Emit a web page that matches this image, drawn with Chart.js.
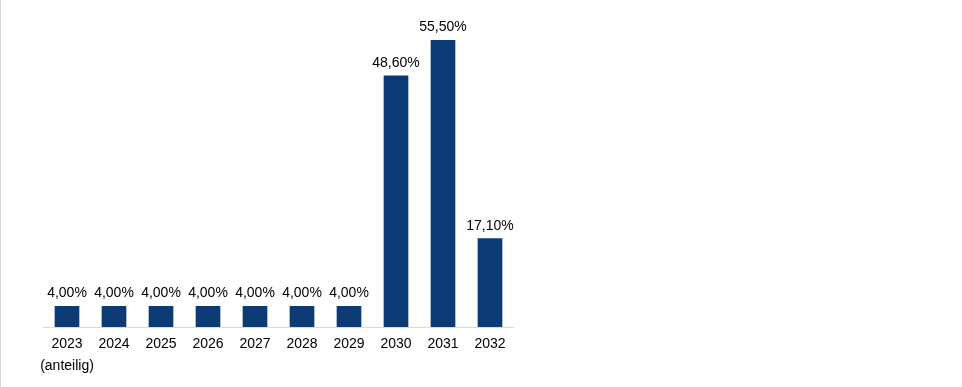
<!DOCTYPE html>
<html>
<head>
<meta charset="utf-8">
<script src="https://cdn.jsdelivr.net/npm/chart.js@4"></script>
<style>
	html, body { margin: 0; padding: 0; background: #fff; }
	.wrap { width: 962px; height: 387px; border-left: 1px solid #d9d9d9; box-sizing: border-box; }
</style>
</head>
<body>
<div class="wrap"><canvas class="chart" width="961" height="387"></canvas></div>
<script>
const years = [["2023", "(anteilig)"], "2024", "2025", "2026", "2027", "2028", "2029", "2030", "2031", "2032"];
const shares = [4.0, 4.0, 4.0, 4.0, 4.0, 4.0, 4.0, 48.6, 55.5, 17.1];

const barColour = "#0b3a75";
const fontFamily = "'Liberation Sans', Arial, sans-serif";

function formatPercent(v) {
	return v.toFixed(2).replace(".", ",") + "%";
}

// labels above each bar
const valueLabels = {
	id: "valueLabels",
	afterDatasetsDraw(chart) {
		const ctx = chart.ctx;
		const meta = chart.getDatasetMeta(0);
		ctx.save();
		ctx.font = "14px " + fontFamily;
		ctx.fillStyle = "#000";
		ctx.textAlign = "center";
		ctx.textBaseline = "bottom";
		meta.data.forEach((bar, i) => {
			ctx.fillText(formatPercent(shares[i]), bar.x, bar.y - 6);
		});
		ctx.restore();
	},
};

const chartCanvas = document.querySelector(".chart");

new Chart(chartCanvas, {
	type: "bar",
	data: {
		labels: years,
		datasets: [
			{
				data: shares,
				backgroundColor: barColour,
				barThickness: 24,
			},
		],
	},
	options: {
		responsive: false,
		animation: false,
		layout: {
			padding: { left: 42.5, right: 448.5, top: 17, bottom: 0 },
		},
		plugins: {
			legend: { display: false },
			tooltip: { enabled: false },
		},
		scales: {
			x: {
				grid: { display: false, drawTicks: false },
				border: { display: true, color: "#d9d9d9", width: 1 },
				ticks: {
					color: "#000",
					padding: 6,
					maxRotation: 0,
					autoSkip: false,
					font: { family: fontFamily, size: 14, lineHeight: 1.6 },
				},
				afterFit(scale) {
					scale.height = 60;
				},
			},
			y: {
				display: false,
				min: 0,
				max: 60,
			},
		},
	},
	plugins: [valueLabels],
});
</script>
</body>
</html>
